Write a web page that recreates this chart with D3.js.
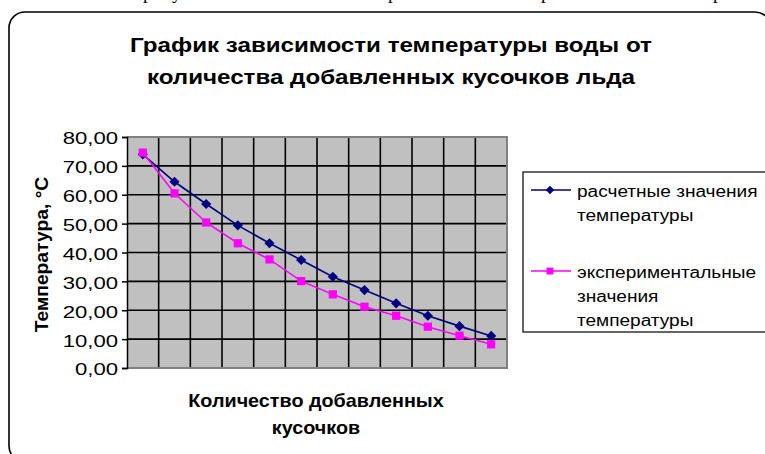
<!DOCTYPE html>
<html>
<head>
<meta charset="utf-8">
<script src="https://cdn.jsdelivr.net/npm/d3@7"></script>
<style>
  html, body { margin: 0; padding: 0; background: #fff; }
  svg { display: block; }
  text { font-family: "Liberation Sans", Arial, sans-serif; }
</style>
</head>
<body>
<svg id="chart" width="765" height="454"></svg>
<script>
// Number of ice pieces added (category axis, labels hidden)
const pieces = [1, 2, 3, 4, 5, 6, 7, 8, 9, 10, 11, 12];
// Calculated water temperature, °C
const calculated = [74.0, 64.5, 56.8, 49.4, 43.2, 37.4, 31.6, 27.0, 22.4, 18.1, 14.5, 11.1];
// Measured water temperature, °C
const experimental = [74.6, 60.5, 50.4, 43.2, 37.6, 30.1, 25.5, 21.2, 18.1, 14.3, 11.2, 8.2];
// Y axis tick values
const yTicks = [0, 10, 20, 30, 40, 50, 60, 70, 80];

const titleLines = ["График зависимости температуры воды от", "количества добавленных кусочков льда"];
const xTitleLines = ["Количество добавленных", "кусочков"];
const yTitle = "Температура, °С";
const seriesNames = [["расчетные значения", "температуры"], ["экспериментальные", "значения", "температуры"]];

const svg = d3.select("#chart");
const plot = { left: 127, top: 137, right: 507, bottom: 368 };

// Widen text horizontally by factor k (wide GDI-style text metrics)
function stretch(sel, k) {
  sel.each(function () {
    const len = this.getComputedTextLength();
    d3.select(this).attr("textLength", len * k).attr("lengthAdjust", "spacingAndGlyphs");
  });
}

// Descenders of the text line above the chart frame
const aboveGlyphs = [{ c: "р", x: 143 }, { c: "у", x: 172 }, { c: "р", x: 388 }, { c: "р", x: 541 }, { c: "р", x: 713 }];
svg.selectAll("text.above").data(aboveGlyphs).enter().append("text")
  .attr("class", "above")
  .attr("x", d => d.x).attr("y", -1)
  .style("font-family", "'Liberation Serif', 'Times New Roman', serif")
  .style("font-size", "19px")
  .text(d => d.c);

// Chart frame
svg.append("rect")
  .attr("x", 9).attr("y", 12)
  .attr("width", 762).attr("height", 450)
  .attr("rx", 16).attr("ry", 16)
  .attr("fill", "#fff").attr("stroke", "#000").attr("stroke-width", 1.6);

// Title
const title = svg.append("text")
  .attr("text-anchor", "middle")
  .style("font-weight", "bold").style("font-size", "21px");
title.selectAll("tspan").data(titleLines).enter().append("tspan")
  .attr("x", 391).attr("y", (d, i) => 52 + i * 32)
  .text(d => d);
stretch(title.selectAll("tspan"), 1.15);

const x = d3.scaleBand().domain(pieces).range([plot.left, plot.right]);
const y = d3.scaleLinear().domain([0, 80]).range([plot.bottom, plot.top]);

// Plot area background
svg.append("rect")
  .attr("x", plot.left).attr("y", plot.top)
  .attr("width", plot.right - plot.left).attr("height", plot.bottom - plot.top)
  .attr("fill", "#c0c0c0");

// Horizontal gridlines
svg.append("g").selectAll("line").data(yTicks.filter(v => v > 0 && v < 80)).enter().append("line")
  .attr("x1", plot.left).attr("x2", plot.right)
  .attr("y1", d => y(d)).attr("y2", d => y(d))
  .attr("stroke", "#000").attr("stroke-width", 1.6);

// Vertical gridlines at category boundaries
svg.append("g").selectAll("line").data(pieces.slice(1)).enter().append("line")
  .attr("x1", d => x(d)).attr("x2", d => x(d))
  .attr("y1", plot.top).attr("y2", plot.bottom)
  .attr("stroke", "#000").attr("stroke-width", 1.6);

// Plot area border (top and right)
svg.append("path")
  .attr("d", `M${plot.left},${plot.top}H${plot.right}V${plot.bottom}`)
  .attr("fill", "none").attr("stroke", "#808080").attr("stroke-width", 2);

// Category axis line
svg.append("line")
  .attr("x1", plot.left).attr("x2", plot.right + 1)
  .attr("y1", plot.bottom).attr("y2", plot.bottom)
  .attr("stroke", "#808080").attr("stroke-width", 2);

// Value axis
const fmt = v => d3.format(".2f")(v).replace(".", ",");
const yAxis = svg.append("g")
  .attr("transform", `translate(${plot.left},0)`)
  .call(d3.axisLeft(y).tickValues(yTicks).tickFormat(fmt).tickSize(5).tickPadding(4));
yAxis.select(".domain").attr("stroke", "#000").attr("stroke-width", 1.5);
yAxis.selectAll(".tick line").attr("stroke", "#000").attr("stroke-width", 1.5);
const tickText = yAxis.selectAll(".tick text")
  .attr("fill", "#000")
  .attr("dy", "0.42em")
  .style("font-family", "'Liberation Sans', Arial, sans-serif")
  .style("font-size", "16.5px");
stretch(tickText, 1.34);

// Axis titles
const yT = svg.append("text")
  .attr("transform", `translate(48,${(plot.top + plot.bottom) / 2 + 2}) rotate(-90)`)
  .attr("text-anchor", "middle")
  .style("font-weight", "bold").style("font-size", "18px")
  .text(yTitle);
stretch(yT, 1.07);

const xT = svg.append("text")
  .attr("text-anchor", "middle")
  .style("font-weight", "bold").style("font-size", "19px");
xT.selectAll("tspan").data(xTitleLines).enter().append("tspan")
  .attr("x", 316).attr("y", (d, i) => 407 + i * 27)
  .text(d => d);
stretch(xT.selectAll("tspan"), 1.04);

// Series
const cx = d => x(d) + x.bandwidth() / 2;
const line = d3.line().x((d, i) => cx(pieces[i])).y(d => y(d));
const colors = ["#000080", "#ff00ff"];
const symSizes = [52, 68];
const rotations = [45, 0]; // diamond = rotated square
const series = [calculated, experimental];

series.forEach((vals, s) => {
  svg.append("path").datum(vals)
    .attr("d", line)
    .attr("fill", "none").attr("stroke", colors[s]).attr("stroke-width", 1.6);
  svg.append("g").selectAll("path").data(vals).enter().append("path")
    .attr("transform", (d, i) => `translate(${cx(pieces[i])},${y(d)}) rotate(${rotations[s]})`)
    .attr("d", d3.symbol().type(d3.symbolSquare).size(symSizes[s]))
    .attr("fill", colors[s]);
});

// Legend
const legend = { x: 523, y: 172, w: 250, h: 160 };
svg.append("rect")
  .attr("x", legend.x).attr("y", legend.y)
  .attr("width", legend.w).attr("height", legend.h)
  .attr("fill", "#fff").attr("stroke", "#000").attr("stroke-width", 1.2);

const entryY = [190, 271];
seriesNames.forEach((lines, s) => {
  const g = svg.append("g");
  g.append("line")
    .attr("x1", 531).attr("x2", 571)
    .attr("y1", entryY[s]).attr("y2", entryY[s])
    .attr("stroke", colors[s]).attr("stroke-width", 1.5);
  g.append("path")
    .attr("transform", `translate(550,${entryY[s]}) rotate(${rotations[s]})`)
    .attr("d", d3.symbol().type(d3.symbolSquare).size(symSizes[s] * 0.7))
    .attr("fill", colors[s]);
  const t = g.append("text").style("font-size", "16px");
  t.selectAll("tspan").data(lines).enter().append("tspan")
    .attr("x", 577).attr("y", (d, i) => entryY[s] + 7 + i * 24)
    .text(d => d);
  stretch(t.selectAll("tspan"), 1.19);
});
</script>
</body>
</html>
